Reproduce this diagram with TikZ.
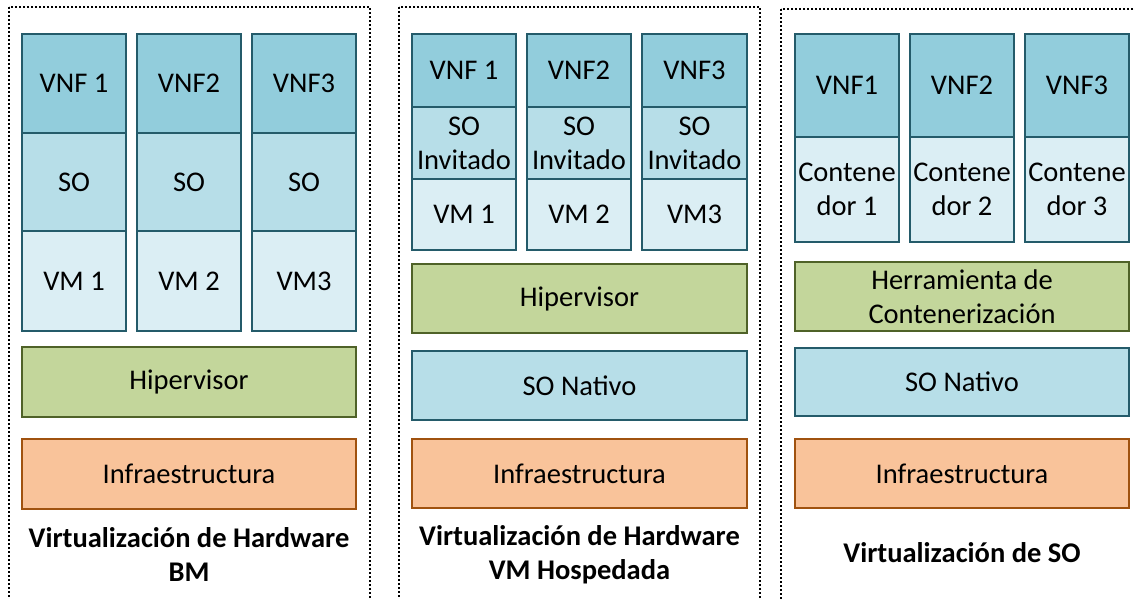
\documentclass[tikz,border=0pt]{standalone}
\usepackage{fontspec}
\setmainfont{Carlito}
\usetikzlibrary{positioning}

\definecolor{vnffill}{HTML}{92CDDC}
\definecolor{sofill}{HTML}{B7DEE8}
\definecolor{vmfill}{HTML}{DBEEF4}
\definecolor{tealline}{HTML}{245B6A}
\definecolor{hipfill}{HTML}{C3D69B}
\definecolor{hipline}{HTML}{4F6228}
\definecolor{infrafill}{HTML}{F9C39A}
\definecolor{infraline}{HTML}{A0520F}

% block given by its corner coordinates: name, style, x1, y1, x2, y2, text
\newcommand{\blk}[7]{%
  \pgfmathsetmacro\bw{#5-#3}%
  \pgfmathsetmacro\bh{#6-#4}%
  \node[#2, minimum width=\bw pt, minimum height=\bh pt] (#1) at ({(#3+#5)/2},{(#4+#6)/2}) {#7};%
}

\begin{document}
\begin{tikzpicture}[x=1pt, y=-1pt,
  every node/.style={font=\fontsize{28.5}{34}\selectfont, inner sep=0pt, align=center},
  vnfbox/.style={draw=tealline, line width=2.4pt, fill=vnffill},
  sobox/.style={draw=tealline, line width=2.4pt, fill=sofill},
  vmbox/.style={draw=tealline, line width=2.4pt, fill=vmfill},
  hipbox/.style={draw=hipline, line width=2.2pt, fill=hipfill},
  infrabox/.style={draw=infraline, line width=2.2pt, fill=infrafill},
  panel/.style={draw=black, line width=2pt, dash pattern=on 2pt off 2pt},
  title/.style={font=\fontsize{28.5}{34}\selectfont\bfseries}]

\useasboundingbox (0,0) rectangle (1135,599);
\clip (0,0) rectangle (1135,599);

% dotted panel frames
\draw[panel] (9,7) rectangle (370,640);
\draw[panel] (399,7) rectangle (760,640);
\draw[panel] (781,9) rectangle (1160,640);

% ---- Virtualización de Hardware BM ----
\blk{a1}{vnfbox}{22}{34}{126}{133}{VNF 1}
\blk{a2}{vnfbox}{137}{34}{241}{133}{VNF2}
\blk{a3}{vnfbox}{252}{34}{356}{133}{VNF3}
\blk{b1}{sobox}{22}{133}{126}{231}{SO}
\blk{b2}{sobox}{137}{133}{241}{231}{SO}
\blk{b3}{sobox}{252}{133}{356}{231}{SO}
\blk{c1}{vmbox}{22}{231}{126}{331}{VM 1}
\blk{c2}{vmbox}{137}{231}{241}{331}{VM 2}
\blk{c3}{vmbox}{252}{231}{356}{331}{VM3}
\blk{hip1}{hipbox}{22}{347}{356}{417}{Hipervisor}
\blk{inf1}{infrabox}{22}{439}{356}{509}{Infraestructura}
\node[title] (t1) at (189,554) {Virtualización de Hardware\\BM};

% ---- Virtualización de Hardware VM Hospedada ----
\blk{d1}{vnfbox}{412}{34}{516}{107}{VNF 1}
\blk{d2}{vnfbox}{527}{34}{631}{107}{VNF2}
\blk{d3}{vnfbox}{642}{34}{747}{107}{VNF3}
\blk{e1}{sobox}{412}{107}{516}{179}{SO\\Invitado}
\blk{e2}{sobox}{527}{107}{631}{179}{SO\\Invitado}
\blk{e3}{sobox}{642}{107}{747}{179}{SO\\Invitado}
\blk{f1}{vmbox}{412}{179}{516}{250}{VM 1}
\blk{f2}{vmbox}{527}{179}{631}{250}{VM 2}
\blk{f3}{vmbox}{642}{179}{747}{250}{VM3}
\blk{hip2}{hipbox}{412}{264}{747}{333}{Hipervisor}
\blk{so2}{sobox}{412}{351}{747}{420}{SO Nativo}
\blk{inf2}{infrabox}{412}{439}{747}{508}{Infraestructura}
\node[title] (t2) at (579.5,555) {Virtualización de Hardware\\VM Hospedada};

% ---- Virtualización de SO ----
\blk{g1}{vnfbox}{795}{34}{899}{137}{VNF1}
\blk{g2}{vnfbox}{910}{34}{1014}{137}{VNF2}
\blk{g3}{vnfbox}{1025}{34}{1129}{137}{VNF3}
\blk{h1}{vmbox}{795}{137}{899}{242}{Contene\\dor 1}
\blk{h2}{vmbox}{910}{137}{1014}{242}{Contene\\dor 2}
\blk{h3}{vmbox}{1025}{137}{1129}{242}{Contene\\dor 3}
\blk{herr}{hipbox}{795}{262}{1129}{331}{Herramienta de\\Contenerización}
\blk{so3}{sobox}{795}{348}{1129}{416}{SO Nativo}
\blk{inf3}{infrabox}{795}{439}{1129}{508}{Infraestructura}
\node[title] (t3) at (962,553) {Virtualización de SO};

\end{tikzpicture}
\end{document}
